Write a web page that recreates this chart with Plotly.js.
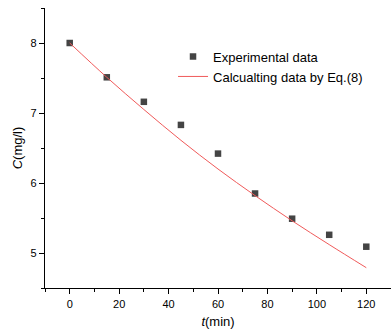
<!DOCTYPE html>
<html>
<head>
<meta charset="utf-8">
<script src="https://cdn.plot.ly/plotly-3.0.1.min.js"></script>
<style>html,body{margin:0;padding:0;background:#fff;}#chart{width:391px;height:336px;}</style>
</head>
<body>
<div id="chart"></div>
<script>
// Experimental data
const expTime = [0, 15, 30, 45, 60, 75, 90, 105, 120];
const expConc = [8.00, 7.51, 7.16, 6.83, 6.42, 5.85, 5.49, 5.26, 5.09];
// Calculated curve by Eq.(8)
const calcTime = [0, 15, 30, 45, 60, 75, 90, 105, 120];
const calcConc = [8.00, 7.51, 7.05, 6.61, 6.20, 5.82, 5.46, 5.12, 4.79];

const xTicks = [0, 20, 40, 60, 80, 100, 120];
const yTicks = [5, 6, 7, 8];

const font = 'Liberation Sans, Arial, sans-serif';

const traces = [
  {
    x: expTime, y: expConc, mode: 'markers', type: 'scatter',
    name: 'Experimental data',
    marker: {symbol: 'square', size: 6.5, color: '#444444'}
  },
  {
    x: calcTime, y: calcConc, mode: 'lines', type: 'scatter',
    name: 'Calcualting data by Eq.(8)',
    line: {color: 'rgb(240,90,90)', width: 1, shape: 'spline'}
  }
];

const layout = {
  width: 391, height: 336,
  margin: {l: 45, r: 0, t: 8, b: 48},
  paper_bgcolor: '#ffffff', plot_bgcolor: '#ffffff',
  font: {family: font, size: 11, color: '#000'},
  showlegend: true,
  legend: {
    x: 0.37, y: 0.88, xanchor: 'left', yanchor: 'top',
    bgcolor: 'rgba(0,0,0,0)', font: {family: font, size: 13, color: '#000'},
    tracegroupgap: 0, itemwidth: 30
  },
  xaxis: {
    range: [-10, 130], tickvals: xTicks, ticktext: xTicks.map(String),
    showgrid: false, zeroline: false,
    showline: true, linecolor: '#000', linewidth: 1.3,
    ticks: 'outside', ticklen: 5, tickwidth: 1, tickcolor: '#000',
    minor: {dtick: 10, tick0: 0, ticks: 'outside', ticklen: 3, tickwidth: 1, tickcolor: '#000', showgrid: false},
    tickfont: {family: font, size: 11, color: '#000'},
    title: {text: '<i>t</i>(min)', font: {family: font, size: 13, color: '#000'}, standoff: 8}
  },
  yaxis: {
    range: [4.5, 8.5], tickvals: yTicks, ticktext: yTicks.map(String),
    showgrid: false, zeroline: false,
    showline: true, linecolor: '#000', linewidth: 1.3,
    ticks: 'outside', ticklen: 5, tickwidth: 1, tickcolor: '#000',
    minor: {dtick: 0.5, tick0: 0, ticks: 'outside', ticklen: 3, tickwidth: 1, tickcolor: '#000', showgrid: false},
    tickfont: {family: font, size: 11, color: '#000'},
    title: {text: '<i>C</i>(mg/l)', font: {family: font, size: 13, color: '#000'}, standoff: 4}
  }
};

Plotly.newPlot('chart', traces, layout, {displayModeBar: false, staticPlot: true});
</script>
</body>
</html>
